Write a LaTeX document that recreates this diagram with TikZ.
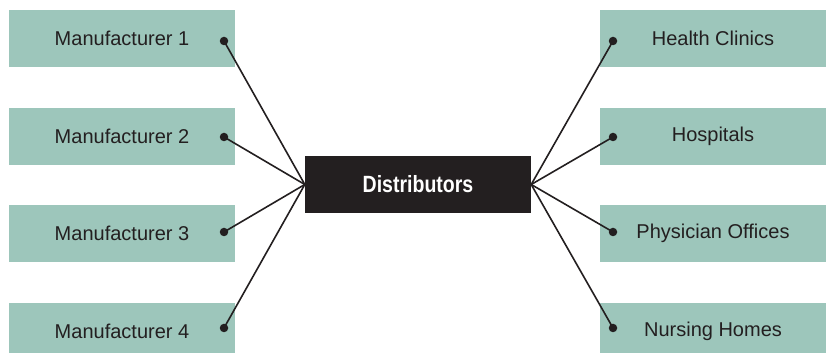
\documentclass[tikz,border=0pt]{standalone}
\usepackage{fontspec}
\setmainfont{Liberation Sans}
\usetikzlibrary{positioning}
\definecolor{sage}{HTML}{9DC6BB}
\definecolor{ink}{HTML}{231F20}

\begin{document}
\begin{tikzpicture}[x=1pt,y=1pt,
  party/.style={fill=sage,minimum width=226pt,minimum height=57pt,inner sep=0pt,
    text=ink,font=\fontsize{20}{24}\selectfont},
  hub/.style={fill=ink,minimum width=226pt,minimum height=57pt,inner sep=0pt,
    text=white,font=\bfseries\fontsize{23.5}{28}\selectfont},
  pin/.style={circle,fill=ink,inner sep=0pt,minimum size=8.5pt},
  link/.style={line width=1.6pt,draw=ink}]
  \useasboundingbox (0,0) rectangle (831,353);
  \clip (0,0) rectangle (831,353);
  % Centre box
  \node[hub] (dist) at (418,168.5) {\scalebox{0.83}[1]{Distributors}};
  % Manufacturers
  \node[party] (man1) at (122,314.5) {Manufacturer 1};
  \node[party] (man2) at (122,216.8) {Manufacturer 2};
  \node[party] (man3) at (122,119.2) {Manufacturer 3};
  \node[party] (man4) at (122,21.5) {Manufacturer 4};
  % Customers
  \node[party] (clin) at (713,314.5) {Health Clinics};
  \node[party] (hosp) at (713,216.8) {Hospitals};
  \node[party] (phys) at (713,119.2) {Physician Offices};
  \node[party] (nurs) at (713,21.5) {Nursing Homes};
  % Dots
  \node[pin] (p1) at (224,312) {};
  \node[pin] (p2) at (224,216) {};
  \node[pin] (p3) at (224,121) {};
  \node[pin] (p4) at (224,25) {};
  \node[pin] (q1) at (613,312) {};
  \node[pin] (q2) at (613,216) {};
  \node[pin] (q3) at (613,121) {};
  \node[pin] (q4) at (613,25) {};
  % Lines into the centre box
  \draw[link] (p1.center) -- (dist.west);
  \draw[link] (p2.center) -- (dist.west);
  \draw[link] (p3.center) -- (dist.west);
  \draw[link] (p4.center) -- (dist.west);
  \draw[link] (q1.center) -- (dist.east);
  \draw[link] (q2.center) -- (dist.east);
  \draw[link] (q3.center) -- (dist.east);
  \draw[link] (q4.center) -- (dist.east);
\end{tikzpicture}
\end{document}
